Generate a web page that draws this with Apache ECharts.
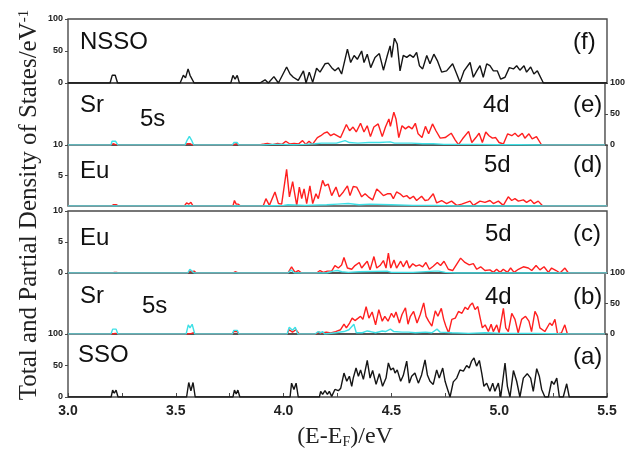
<!DOCTYPE html>
<html>
<head>
<meta charset="utf-8">
<script src="https://cdn.jsdelivr.net/npm/echarts@6/dist/echarts.min.js"></script>
<style>
html,body{margin:0;padding:0;background:#fff}
#chart{width:628px;height:450px}
</style>
</head>
<body>
<div id="chart"></div>
<script>
// Energy window, eV relative to the Fermi level
const energyRange = [3.0, 5.5];
const energyTickLabels = ['3.0', '3.5', '4.0', '4.5', '5.0', '5.5'];

// (f) NSSO total DOS  [E, states/eV]
const nssoTotal = [[3.0,0],[3.195,0],[3.205,12],[3.212,9],[3.219,12],[3.23,0],[3.52,0],[3.535,12],[3.545,8],[3.557,22],[3.566,12],[3.573,15],[3.585,0],[3.755,0],[3.765,12],[3.775,6],[3.785,12],[3.795,0],[3.89,0],[3.914,5],[3.929,0],[3.955,10],[3.976,0],[4.014,25],[4.030,14],[4.045,9],[4.068,4],[4.092,19],[4.104,0],[4.119,17],[4.135,1],[4.153,23],[4.169,17],[4.192,30],[4.207,31],[4.223,24],[4.238,19],[4.254,24],[4.269,14],[4.296,53],[4.311,32],[4.327,43],[4.342,37],[4.362,50],[4.373,32],[4.388,45],[4.404,24],[4.424,40],[4.444,46],[4.463,20],[4.481,43],[4.494,58],[4.501,40],[4.514,70],[4.527,61],[4.540,19],[4.555,43],[4.571,40],[4.586,44],[4.602,40],[4.617,48],[4.630,27],[4.645,22],[4.664,43],[4.679,30],[4.697,45],[4.713,35],[4.733,17],[4.756,19],[4.784,30],[4.803,14],[4.818,1],[4.837,19],[4.865,32],[4.880,9],[4.896,19],[4.911,27],[4.926,9],[4.942,30],[4.957,27],[4.973,19],[4.991,19],[5.007,6],[5.027,9],[5.047,24],[5.066,22],[5.081,27],[5.096,20],[5.115,27],[5.127,17],[5.146,25],[5.161,14],[5.177,19],[5.205,0],[5.5,0]];

// (e) Sr partial DOS in NSSO
const nssoSr4d = [[3.0,0],[3.2,0],[3.21,2],[3.22,1],[3.228,2],[3.235,0],[3.54,0],[3.555,2],[3.57,2],[3.58,0],[3.765,0],[3.772,2],[3.785,2],[3.795,0],[3.89,0],[3.914,1.6],[3.929,2.7],[3.952,0.5],[3.976,2.7],[3.996,1],[4.014,6],[4.033,1.6],[4.053,2.7],[4.073,1.6],[4.092,7],[4.107,1],[4.122,6],[4.138,1],[4.161,12],[4.177,15],[4.192,19],[4.207,21],[4.223,15],[4.238,18],[4.269,12],[4.296,33],[4.311,23],[4.327,29],[4.342,21],[4.362,35],[4.378,21],[4.393,31],[4.408,13.5],[4.424,29],[4.444,34],[4.463,13.5],[4.478,29],[4.494,42],[4.501,30],[4.517,53],[4.527,42],[4.540,12],[4.555,31],[4.571,26],[4.586,30],[4.602,26],[4.617,35],[4.630,18],[4.648,12],[4.664,30],[4.679,18],[4.697,34],[4.713,23],[4.733,11],[4.756,12],[4.784,19],[4.803,8],[4.818,0.5],[4.837,10],[4.865,22],[4.880,4],[4.899,12],[4.914,19],[4.929,4],[4.945,21],[4.960,15],[4.976,11],[4.991,12],[5.007,4],[5.027,1.6],[5.047,18],[5.066,15],[5.081,19],[5.096,13.5],[5.115,19],[5.127,11],[5.146,18],[5.161,10],[5.181,13.5],[5.205,0],[5.5,0]];
const nssoSr5s = [[3.0,0],[3.2,0],[3.205,6],[3.212,4],[3.222,6],[3.232,0],[3.545,0],[3.555,8],[3.565,14],[3.575,8],[3.585,0],[3.765,0],[3.772,4],[3.78,2],[3.788,4],[3.795,0],[3.9,0],[3.95,1],[4.0,1],[4.05,0.5],[4.1,1],[4.15,2],[4.18,3],[4.2,3],[4.25,3],[4.29,7],[4.31,4],[4.35,3],[4.4,4],[4.45,4],[4.5,5],[4.52,3],[4.55,3],[4.6,3],[4.65,2],[4.7,2],[4.75,1],[4.8,1],[4.9,1],[5.0,0.5],[5.1,0.5],[5.2,0],[5.5,0]];

// (d) Eu partial DOS in NSSO
const nssoEu5d = [[3.0,0],[3.2,0],[3.21,0.2],[3.225,0.2],[3.235,0],[3.54,0],[3.55,0.5],[3.56,0.3],[3.57,0.6],[3.58,0],[3.765,0],[3.772,0.9],[3.78,0.3],[3.79,0.3],[3.8,0],[3.89,0],[3.906,0.1],[3.918,1.2],[3.934,0.1],[3.960,2.3],[3.976,0.4],[3.991,0.3],[4.014,6.0],[4.027,1.5],[4.042,4.0],[4.053,1.7],[4.061,0.1],[4.073,3.1],[4.084,1.2],[4.095,2.8],[4.107,0.4],[4.122,3.3],[4.135,0.4],[4.150,2.0],[4.161,1.2],[4.181,4.2],[4.192,3.3],[4.207,3.6],[4.223,1.7],[4.243,3.1],[4.258,1.5],[4.277,2.3],[4.296,3.3],[4.308,1.7],[4.323,3.2],[4.339,3.1],[4.351,2.3],[4.362,1.5],[4.378,2.0],[4.393,1.5],[4.413,1.0],[4.432,2.8],[4.447,2.3],[4.463,1.7],[4.481,2.0],[4.497,2.0],[4.509,1.2],[4.524,2.3],[4.540,2.0],[4.555,1.5],[4.571,1.7],[4.586,1.2],[4.602,1.6],[4.617,0.9],[4.640,1.6],[4.656,0.9],[4.671,1.0],[4.694,2.0],[4.710,0.5],[4.733,0.9],[4.756,0.4],[4.779,0.8],[4.803,0.1],[4.826,0.3],[4.865,0.8],[4.880,0.1],[4.911,0.8],[4.934,0.6],[4.957,0.9],[4.973,0.4],[4.996,0.8],[5.019,0.1],[5.042,1.5],[5.058,0.9],[5.073,1.2],[5.089,0.8],[5.112,1.0],[5.127,0.6],[5.146,1.0],[5.161,0.4],[5.181,0.8],[5.202,0],[5.5,0]];
const nssoEu6s = [[3.0,0],[3.9,0],[4.0,0.1],[4.02,0.2],[4.1,0.1],[4.2,0.2],[4.25,0.3],[4.3,0.4],[4.35,0.2],[4.4,0.3],[4.5,0.2],[4.6,0.1],[4.7,0.1],[4.8,0],[5.5,0]];

// (c) Eu partial DOS in SSO
const ssoEu5d = [[3.0,0],[3.205,0],[3.215,0.1],[3.225,0.1],[3.235,0],[3.555,0],[3.565,0.3],[3.575,0.2],[3.585,0.3],[3.595,0],[3.765,0],[3.775,0.2],[3.785,0.1],[3.79,0.2],[3.8,0],[4.02,0],[4.037,1.0],[4.053,0.1],[4.068,0.4],[4.084,0],[4.153,0],[4.169,0.4],[4.184,0.1],[4.203,0.3],[4.223,0.3],[4.238,1.2],[4.254,0.8],[4.269,1.3],[4.280,2.5],[4.296,0.8],[4.316,0.6],[4.331,1.2],[4.351,1.7],[4.362,0.8],[4.378,1.5],[4.388,1.9],[4.401,0.5],[4.419,2.65],[4.432,0.8],[4.447,1.2],[4.463,2.0],[4.475,0.8],[4.486,3.2],[4.497,0.8],[4.512,2.1],[4.524,0.8],[4.543,1.9],[4.555,1.0],[4.571,2.0],[4.583,0.8],[4.599,1.5],[4.614,1.1],[4.630,1.3],[4.645,1.0],[4.660,1.7],[4.676,0.6],[4.694,1.1],[4.713,1.7],[4.728,1.2],[4.744,1.9],[4.764,0.6],[4.784,0.4],[4.821,2.4],[4.841,1.7],[4.861,1.3],[4.880,1.5],[4.896,0.6],[4.914,1.0],[4.934,0.4],[4.957,0.5],[4.973,0.1],[4.988,0.6],[5.004,0.1],[5.019,0.6],[5.038,0.1],[5.053,0.8],[5.069,0.1],[5.089,0.6],[5.112,1.0],[5.135,0.8],[5.151,0.4],[5.171,1.2],[5.189,0.5],[5.208,1.0],[5.228,0.1],[5.243,0.8],[5.264,0.4],[5.282,0],[5.305,0.8],[5.321,0],[5.5,0]];
const ssoEu6s = [[3.0,0],[3.555,0],[3.565,0.6],[3.575,0.3],[3.585,0],[4.02,0],[4.035,0.5],[4.05,0],[4.2,0],[4.23,0.3],[4.25,0.4],[4.27,0.2],[4.3,0.1],[4.35,0.2],[4.48,0.3],[4.5,0.1],[4.6,0.1],[4.7,0.3],[4.72,0.3],[4.75,0.1],[4.8,0],[5.5,0]];

// (b) Sr partial DOS in SSO
const ssoSr4d = [[3.0,0],[3.205,0],[3.212,2],[3.22,1],[3.228,2],[3.235,0],[3.555,0],[3.563,2],[3.575,1],[3.585,2],[3.595,0],[3.765,0],[3.772,4],[3.78,2],[3.788,4],[3.795,0],[4.02,0],[4.030,7],[4.045,3],[4.061,7],[4.076,0],[4.153,0],[4.169,3],[4.184,1.6],[4.203,3],[4.223,1.6],[4.246,4],[4.269,7],[4.285,16],[4.296,10],[4.311,18],[4.323,26],[4.336,22],[4.351,26],[4.362,29],[4.373,24],[4.388,45],[4.401,26],[4.416,36],[4.432,15],[4.447,40],[4.463,21],[4.475,29],[4.490,21],[4.506,34],[4.517,27],[4.527,36],[4.543,18],[4.555,32],[4.571,43],[4.583,16],[4.594,29],[4.609,37],[4.625,18],[4.640,32],[4.656,51],[4.667,29],[4.679,21],[4.694,13],[4.710,38],[4.722,29],[4.738,42],[4.749,24],[4.759,13],[4.772,1.6],[4.787,24],[4.803,26],[4.818,37],[4.834,34],[4.849,44],[4.861,40],[4.872,47],[4.883,51],[4.895,40],[4.908,45],[4.919,26],[4.929,10],[4.942,15],[4.957,4],[4.970,16],[4.980,4],[4.996,15],[5.007,1.6],[5.027,42],[5.038,10],[5.050,4],[5.066,34],[5.081,24],[5.096,1.6],[5.112,24],[5.130,29],[5.146,21],[5.158,4],[5.174,37],[5.186,29],[5.197,10],[5.220,4],[5.243,18],[5.254,14],[5.267,24],[5.279,0],[5.297,1.6],[5.313,15],[5.325,0],[5.5,0]];
const ssoSr5s = [[3.0,0],[3.2,0],[3.208,8],[3.215,5],[3.224,8],[3.232,0],[3.55,0],[3.56,15],[3.568,10],[3.578,16],[3.59,0],[3.765,0],[3.772,6],[3.78,3],[3.788,6],[3.795,0],[4.02,0],[4.03,11],[4.045,6],[4.058,11],[4.07,0],[4.15,0],[4.165,4],[4.175,2],[4.185,4],[4.195,0],[4.246,2],[4.285,4],[4.308,7],[4.331,16],[4.342,2],[4.370,2],[4.393,5],[4.408,4],[4.432,2],[4.463,5],[4.478,4],[4.501,8],[4.517,4],[4.555,3],[4.586,3],[4.617,2],[4.664,3],[4.694,2],[4.718,8],[4.733,3],[4.787,2],[4.865,1],[4.942,2],[5.019,1],[5.174,1],[5.325,0],[5.5,0]];

// (a) SSO total DOS
const ssoTotal = [[3.0,0],[3.2,0],[3.207,11],[3.215,6],[3.223,11],[3.232,0],[3.55,0],[3.56,23],[3.57,10],[3.58,23],[3.59,0],[3.765,0],[3.772,11],[3.78,5],[3.788,11],[3.797,0],[4.030,0],[4.037,22],[4.048,12],[4.058,22],[4.068,0],[4.166,0],[4.172,9],[4.181,4],[4.192,10],[4.203,4],[4.212,9],[4.223,1],[4.238,12],[4.254,10],[4.265,14],[4.280,38],[4.293,25],[4.305,33],[4.316,17],[4.323,30],[4.336,46],[4.347,33],[4.357,43],[4.370,28],[4.388,58],[4.401,30],[4.413,42],[4.429,20],[4.444,37],[4.459,17],[4.475,30],[4.486,54],[4.497,43],[4.509,46],[4.517,38],[4.527,43],[4.543,25],[4.555,34],[4.571,57],[4.583,22],[4.594,33],[4.609,38],[4.625,22],[4.640,35],[4.656,59],[4.667,35],[4.679,25],[4.694,20],[4.710,43],[4.722,30],[4.738,46],[4.749,25],[4.759,14],[4.772,0],[4.787,24],[4.803,30],[4.818,43],[4.834,41],[4.849,50],[4.861,46],[4.872,57],[4.883,62],[4.895,49],[4.908,58],[4.919,38],[4.929,17],[4.942,22],[4.957,9],[4.970,22],[4.980,9],[4.996,22],[5.007,0],[5.027,54],[5.038,17],[5.050,0],[5.066,42],[5.081,25],[5.096,0],[5.112,30],[5.130,37],[5.146,30],[5.158,9],[5.174,45],[5.186,33],[5.197,12],[5.212,0],[5.228,0],[5.243,25],[5.254,20],[5.267,30],[5.279,0],[5.297,0],[5.313,21],[5.325,0],[5.5,0]];

const BLACK = '#151515', RED = '#ff1f1f', CYAN = '#3ee0e6';
const FRAME = '#4a4a4a';
const SANS = '"Liberation Sans", Arial, sans-serif';
const SERIF = '"Liberation Serif", "Times New Roman", serif';

// stacked panels, top to bottom
const panels = [
  { top: 19,  height: 64, max: 100, step: 50, side: 'left',  lines: [[nssoTotal, BLACK]] },
  { top: 83,  height: 62, max: 100, step: 50, side: 'right', lines: [[nssoSr4d, RED], [nssoSr5s, CYAN]] },
  { top: 145, height: 61, max: 10,  step: 5,  side: 'left',  lines: [[nssoEu5d, RED], [nssoEu6s, CYAN]], hideZero: true },
  { top: 211, height: 62, max: 10,  step: 5,  side: 'left',  lines: [[ssoEu5d, RED], [ssoEu6s, CYAN]] },
  { top: 273, height: 61, max: 100, step: 50, side: 'right', lines: [[ssoSr4d, RED], [ssoSr5s, CYAN]] },
  { top: 334, height: 63, max: 100, step: 50, side: 'left',  lines: [[ssoTotal, BLACK]], bottom: true }
];

const grid = [], xAxis = [], yAxis = [], series = [];
panels.forEach((p, i) => {
  grid.push({ left: 68, right: 21, top: p.top, height: p.height, show: true,
    borderColor: FRAME, borderWidth: 1.4, backgroundColor: 'transparent' });
  xAxis.push({
    type: 'value', gridIndex: i, min: energyRange[0], max: energyRange[1], interval: 0.5,
    axisLine: { show: false }, splitLine: { show: false },
    axisTick: { show: !!p.bottom, inside: true, length: 4, lineStyle: { color: FRAME } },
    minorTick: { show: !!p.bottom, splitNumber: 2, length: 4, lineStyle: { color: FRAME } },
    axisLabel: { show: !!p.bottom, margin: 7, fontFamily: SANS, fontWeight: 'bold', fontSize: 14, color: '#222',
      formatter: v => energyTickLabels[Math.round((v - energyRange[0]) / 0.5)] }
  });
  yAxis.push({
    type: 'value', gridIndex: i, position: p.side, min: 0, max: p.max, interval: p.step,
    axisLine: { show: false }, splitLine: { show: false },
    axisTick: { show: true, length: 3, lineStyle: { color: FRAME } },
    axisLabel: { margin: 5, fontFamily: SANS, fontWeight: 'bold', fontSize: 9, color: '#222',
      showMinLabel: !p.hideZero }
  });
  p.lines.forEach(([data, color]) => {
    series.push({ type: 'line', xAxisIndex: i, yAxisIndex: i, data, showSymbol: false, symbol: 'none',
      clip: true, lineStyle: { color, width: 1.4 }, itemStyle: { color } });
  });
});

// panel captions
const captions = [
  ['NSSO', 80, 42], ['(f)', 573, 42],
  ['Sr', 80, 105], ['5s', 140, 119], ['4d', 483, 105], ['(e)', 573, 105],
  ['Eu', 80, 171], ['5d', 484, 165], ['(d)', 573, 165],
  ['Eu', 80, 238], ['5d', 485, 234], ['(c)', 573, 234],
  ['Sr', 80, 296], ['5s', 142, 306], ['4d', 485, 297], ['(b)', 573, 297],
  ['SSO', 78, 355], ['(a)', 573, 357]
];
const graphic = captions.map(([text, x, y]) => ({
  type: 'text', x, y, silent: true,
  style: { text, fontFamily: SANS, fontSize: 24, fill: '#111', align: 'left', verticalAlign: 'middle' }
}));

graphic.push({
  type: 'text', x: 29, y: 205, rotation: Math.PI / 2, silent: true,
  style: {
    text: 'Total and Partial Density of States/eV{sup|-1}',
    fontFamily: SERIF, fontSize: 25, fill: '#222', align: 'center', verticalAlign: 'middle',
    rich: { sup: { fontFamily: SERIF, fontSize: 15, verticalAlign: 'top', fill: '#222' } }
  }
});
graphic.push({
  type: 'text', x: 345, y: 437, silent: true,
  style: {
    text: '(E-E{sub|F})/eV',
    fontFamily: SERIF, fontSize: 24, fill: '#222', align: 'center', verticalAlign: 'middle',
    rich: { sub: { fontFamily: SERIF, fontSize: 14, verticalAlign: 'bottom', padding: [10, 0, 0, 0], fill: '#222' } }
  }
});

const chart = echarts.init(document.getElementById('chart'), null, { renderer: 'canvas' });
chart.setOption({ animation: false, backgroundColor: '#fff', grid, xAxis, yAxis, series, graphic });
</script>
</body>
</html>
